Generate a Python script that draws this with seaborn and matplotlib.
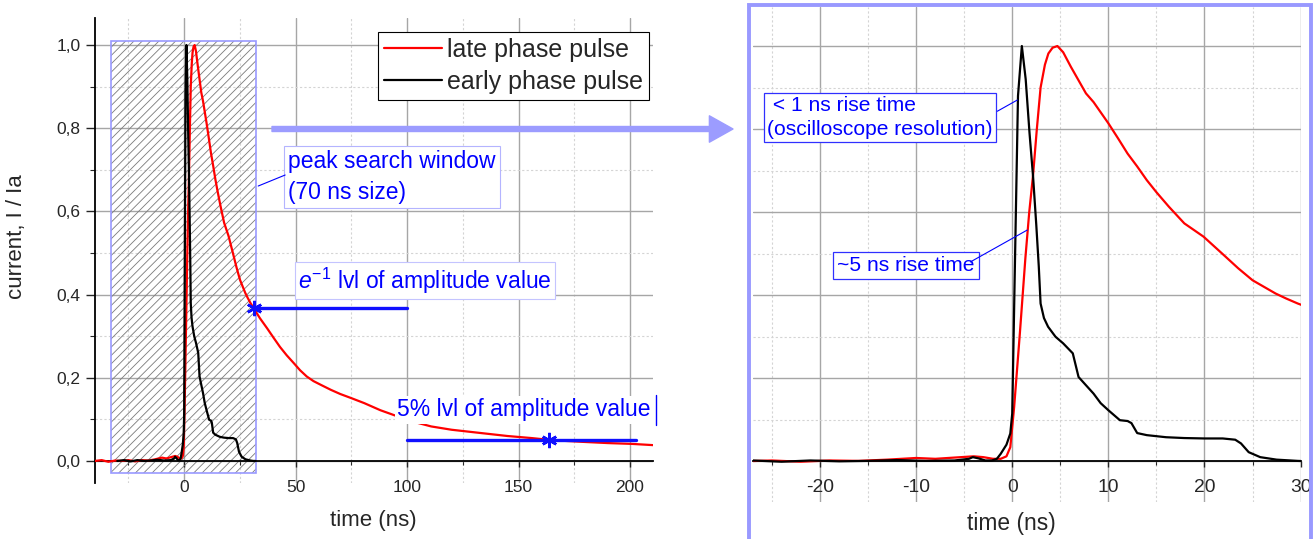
import numpy as np
import pandas as pd
import matplotlib.pyplot as plt
import seaborn as sns
from matplotlib import font_manager
from matplotlib.patches import Rectangle, FancyArrowPatch
from matplotlib.ticker import MultipleLocator, FuncFormatter

# late phase pulse (red), time in ns, current normalised I / Ia
late_t = [-40, -37, -34, -31, -28, -25, -22, -19, -16, -13, -10, -8, -6, -4, -3, -2,
          -1.2, -0.6, -0.2, 0.2, 0.8, 1.37, 1.77, 2.17, 2.56, 2.95, 3.4, 3.76, 4.2, 4.7,
          5.3, 6.1, 7.67, 8.46, 10.0, 11.0, 12.0, 13.0, 14.0, 15.0, 16.3, 17.9, 19.9, 21.85,
          23.5, 25.0, 26.2, 27.4, 28.5, 29.7, 31.2, 34, 37.2, 40, 43, 46, 49.2, 52, 55, 58,
          61.3, 65.8, 70, 75, 80.8, 88, 95.8, 103, 110.8, 120, 133.3, 145,
          155.9, 165, 178.4, 190, 200.9, 210.5]
late_i = [0.000, 0.002, -0.002, 0.001, 0.000, 0.002, -0.001, 0.002, 0.001, 0.004, 0.008,
          0.006, 0.009, 0.012, 0.010, 0.006, 0.006, 0.012, 0.034, 0.131, 0.31, 0.49, 0.60,
          0.69, 0.80, 0.90, 0.955, 0.982, 0.996, 1.0, 0.985, 0.95, 0.886, 0.865, 0.814,
          0.778, 0.741, 0.71, 0.677, 0.648, 0.613, 0.573, 0.541, 0.50, 0.465, 0.436, 0.42,
          0.404, 0.392, 0.38, 0.367, 0.343, 0.319, 0.297, 0.274, 0.254, 0.235, 0.218, 0.203,
          0.192, 0.183, 0.171, 0.161, 0.151, 0.139, 0.122, 0.107, 0.094, 0.083, 0.075,
          0.067, 0.06, 0.055, 0.05, 0.046, 0.043, 0.041, 0.038]

# early phase pulse (black)
early_t = [-30, -27, -24, -21, -18, -15, -12, -9, -6, -4.5, -4.1, -3.5, -2.8, -2.1, -1.6,
           -1.2, -0.6, -0.2, 0.0, 0.3, 0.6, 1.0, 1.4, 1.8, 2.17, 2.5, 2.76, 2.95, 3.3, 3.73,
           4.5, 5.3, 6.3, 6.9, 7.6, 8.46, 9.2, 10.0, 11.2, 12.0, 12.4, 13.0, 14.0, 16.0,
           17.9, 20.0, 21.9, 23.2, 23.8, 24.6, 25.8, 27.5, 29.7, 31.0, 32.0]
early_i = [0.0, 0.002, -0.001, 0.002, 0.0, 0.001, 0.003, 0.001, 0.002, 0.006, 0.01, 0.007,
           0.002, 0.002, 0.006, 0.018, 0.04, 0.067, 0.115, 0.50, 0.88, 1.0, 0.92, 0.79,
           0.685, 0.57, 0.47, 0.38, 0.345, 0.324, 0.30, 0.284, 0.26, 0.203, 0.185, 0.163,
           0.14, 0.123, 0.099, 0.097, 0.092, 0.068, 0.063, 0.058, 0.056, 0.055, 0.055,
           0.052, 0.043, 0.022, 0.010, 0.004, 0.001, 0.0, 0.0]

# peak search window and level markers
win_start, win_end = -33, 32
lvl_e1, t_e1, e1_end = 0.368, 31.3, 100
lvl_5, t_5, five_start, five_end = 0.05, 163.5, 100, 202.7

late = pd.DataFrame({'t': late_t, 'i': late_i})
early = pd.DataFrame({'t': early_t, 'i': early_i})

sns.set_style('white')
plt.rcParams['font.family'] = ['Liberation Sans', 'DejaVu Sans']
plt.rcParams['mathtext.fontset'] = 'custom'
plt.rcParams['mathtext.it'] = 'Liberation Sans:italic'
plt.rcParams['mathtext.rm'] = 'Liberation Sans'
plt.rcParams['hatch.linewidth'] = 0.6
plt.rcParams['axes.unicode_minus'] = False

names = {f.name for f in font_manager.fontManager.ttflist}
narrow = 'Liberation Sans Narrow' in names
nfam = ['Liberation Sans Narrow', 'Liberation Sans'] if narrow else ['Liberation Sans']
k = 1.0 if narrow else 0.84

BLUE = '#0000ff'
LAV = '#9999ff'
comma = FuncFormatter(lambda v, p: f'{v:.1f}'.replace('.', ','))

fig = plt.figure(figsize=(13.13, 5.39), dpi=100)
ax1 = fig.add_axes([95/1313, 1-483/539, 558/1313, 465/539])
ax2 = fig.add_axes([752.7/1313, 1-502/539, 547.9/1313, 495/539])


def base_style(ax, xmaj, xmin):
    ax.xaxis.set_major_locator(MultipleLocator(xmaj))
    ax.xaxis.set_minor_locator(MultipleLocator(xmin))
    ax.yaxis.set_major_locator(MultipleLocator(0.2))
    ax.yaxis.set_minor_locator(MultipleLocator(0.1))
    ax.grid(which='major', color='#a6a6a6', lw=1.0)
    ax.grid(which='minor', color='#d4d4d4', lw=0.8, ls=(0, (2, 2)))
    ax.set_axisbelow(True)
    for s in ['top', 'right']:
        ax.spines[s].set_visible(False)
    ax.spines['bottom'].set_position(('data', 0))
    ax.spines['bottom'].set_color('black')
    ax.spines['bottom'].set_linewidth(1.3)
    ax.tick_params(axis='x', which='major', direction='out', length=4, width=1,
                   pad=10, bottom=True)
    ax.tick_params(axis='x', which='minor', direction='out', length=3, width=0.8,
                   bottom=True)


# ---- left panel
base_style(ax1, 50, 25)
ax1.set_xlim(-40, 210.3)
ax1.set_ylim(-0.053, 1.065)
ax1.spines['left'].set_color('black')
ax1.spines['left'].set_linewidth(1.3)
ax1.tick_params(axis='y', which='major', direction='out', length=6.5, width=1, pad=4,
                left=True, labelsize=12.5)
ax1.tick_params(axis='y', which='minor', direction='out', length=3.5, width=0.8, left=True)
ax1.tick_params(axis='x', labelsize=12.5)
ax1.yaxis.set_major_formatter(comma)

ax1.add_patch(Rectangle((win_start, -0.03), win_end - win_start, 1.04, fill=False,
                        hatch='////', edgecolor='#7a7a7a', lw=0, zorder=1.5))
ax1.add_patch(Rectangle((win_start, -0.03), win_end - win_start, 1.04, fill=False,
                        edgecolor=LAV, lw=1.2, zorder=1.6))

sns.lineplot(data=late, x='t', y='i', ax=ax1, color='red', lw=1.6,
             label='late phase pulse', estimator=None, zorder=3)
sns.lineplot(data=early, x='t', y='i', ax=ax1, color='black', lw=1.6,
             label='early phase pulse', estimator=None, zorder=3.1)

ax1.plot([t_e1, e1_end], [lvl_e1, lvl_e1], color='#1010ff', lw=2.4, zorder=5)
ax1.plot([five_start, five_end], [lvl_5, lvl_5], color='#1010ff', lw=2.4, zorder=5)
ax1.plot([t_e1, t_5], [lvl_e1, lvl_5], ls='none', marker=(6, 2, 0), ms=11,
         mec='#1010ff', mew=1.8, zorder=6)

ax1.text(46.6, 0.683, 'peak search window\n(70 ns size)', color=BLUE, fontsize=16.5,
         ha='left', va='center', linespacing=1.42, zorder=7,
         bbox=dict(boxstyle='square,pad=0.18', fc='white', ec='#b4b4ff', lw=0.8))
ax1.plot([33.2, 45.3], [0.661, 0.6875], color=BLUE, lw=0.8, zorder=7)
ax1.text(51.1, 0.433, r'$e^{-1}$ lvl of amplitude value', color=BLUE, fontsize=16.5,
         ha='left', va='center', zorder=7,
         bbox=dict(boxstyle='square,pad=0.15', fc='white', ec='#c4c4ff', lw=0.8))
ax1.text(95.5, 0.123, '5% lvl of amplitude value', color=BLUE, fontsize=16.5,
         ha='left', va='center', zorder=7,
         bbox=dict(boxstyle='square,pad=0.1', fc='white', ec='none'))
ax1.plot([211.7, 211.7], [0.087, 0.159], color=BLUE, lw=1, clip_on=False, zorder=7)

ax1.set_xlabel('time (ns)', fontsize=16)
ax1.set_ylabel('current, I / Ia', fontsize=16)
ax1.xaxis.set_label_coords(0.498, -0.058)
ax1.yaxis.set_label_coords(-0.122, 0.53)

leg = ax1.legend(loc='upper left', bbox_to_anchor=(0.507, 0.970), frameon=True,
                 fancybox=False, edgecolor='black', framealpha=1, fontsize=18,
                 handlelength=2.3, handletextpad=0.2, labelspacing=0.3,
                 borderpad=0.25, borderaxespad=0)
leg.get_frame().set_linewidth(0.8)

# ---- right panel (zoom around the rising edge)
base_style(ax2, 10, 5)
ax2.set_xlim(-27, 30)
ax2.set_ylim(-0.098, 1.094)
ax2.spines['left'].set_visible(False)
ax2.tick_params(axis='y', which='both', left=False, labelleft=False)
ax2.tick_params(axis='x', labelsize=16.5 * k, pad=9)
for lbl in ax2.get_xticklabels():
    lbl.set_family(nfam)

sns.lineplot(data=late, x='t', y='i', ax=ax2, color='red', lw=1.6,
             estimator=None, legend=False, zorder=3)
sns.lineplot(data=early, x='t', y='i', ax=ax2, color='black', lw=1.6,
             estimator=None, legend=False, zorder=3.1)

ax2.text(-25.5, 0.828, ' < 1 ns rise time\n(oscilloscope resolution)', color=BLUE,
         fontsize=18 * k, family=nfam, ha='left', va='center', linespacing=1.3, zorder=7,
         bbox=dict(boxstyle='square,pad=0.15', fc='white', ec='#3030ff', lw=0.9))
ax2.plot([-1.55, 0.53], [0.843, 0.87], color=BLUE, lw=0.8, zorder=7)
ax2.text(-18.2, 0.472, '~5 ns rise time', color=BLUE, fontsize=18 * k, family=nfam,
         ha='left', va='center', zorder=7,
         bbox=dict(boxstyle='square,pad=0.2', fc='white', ec='#3030ff', lw=0.9))
ax2.plot([-4.36, 1.57], [0.48, 0.557], color=BLUE, lw=0.8, zorder=7)

ax2.set_xlabel('time (ns)', fontsize=19.5 * k, family=nfam)
ax2.set_ylabel('')
ax2.xaxis.set_label_coords(0.473, -0.02)

# frame round the zoom panel and the arrow pointing to it
fig.add_artist(Rectangle((749/1313, -0.05), 562/1313, 1.05 - 5/539,
                         transform=fig.transFigure, fill=False, ec=LAV, lw=2.8))
fig.add_artist(FancyArrowPatch((272/1313, 1 - 129/539), (733/1313, 1 - 129/539),
                               transform=fig.transFigure, mutation_scale=1,
                               arrowstyle='simple,head_length=17,head_width=19,tail_width=3.6',
                               color='#9c9cff', shrinkA=0, shrinkB=0))

fig.savefig('out.png', dpi=100)
